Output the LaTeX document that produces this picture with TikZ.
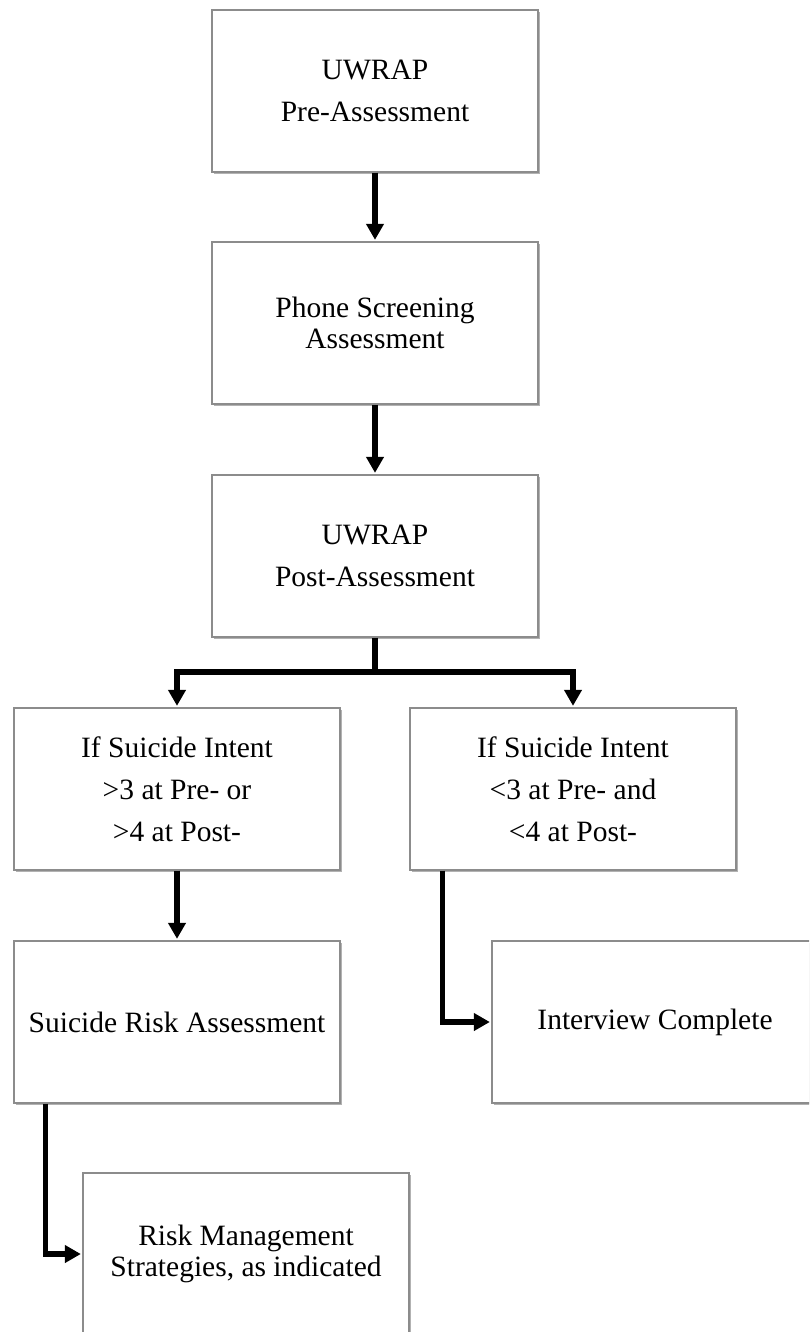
\documentclass[tikz,border=0pt]{standalone}
\usepackage{fontspec}
\setmainfont{Liberation Serif}
\usetikzlibrary{arrows.meta,shadows}
\tikzset{
  box/.style={draw=black!45, line width=1.3pt, fill=white, minimum width=326pt, minimum height=162pt,
    inner sep=0pt, align=center, font=\fontsize{29.5}{42}\selectfont,
    drop shadow={shadow xshift=1.5pt, shadow yshift=-2pt, fill=black, opacity=0.3}},
  tight/.style={font=\fontsize{29.5}{31}\selectfont},
  arr/.style={line width=5.5pt, line join=miter, -{Triangle[length=16pt,width=17pt]}, shorten >=1.5pt}
}
\begin{document}
\begin{tikzpicture}[x=1pt,y=-1pt]
\clip (0,0) rectangle (809,1332);
\fill[white] (0,0) rectangle (809,1332);
\node[box] (b1) at (375,91) {UWRAP\\Pre-Assessment};
\node[box,tight] (b2) at (375,323) {Phone Screening\\Assessment};
\node[box] (b3) at (375,556) {UWRAP\\Post-Assessment};
\node[box] (b4) at (177,789) {If Suicide Intent\\>3 at Pre- or\\>4 at Post-};
\node[box] (b5) at (573,789) {If Suicide Intent\\<3 at Pre- and\\<4 at Post-};
\node[box] (b6) at (177,1022) {Suicide Risk Assessment};
\node[box] (b8) at (655,1022) {Interview Complete};
\node[box,tight] (b7) at (246,1254) {Risk Management\\Strategies, as indicated};
\coordinate (split) at (375,672);
\draw[arr] (b1.south) -- (b2.north);
\draw[arr] (b2.south) -- (b3.north);
\draw[arr] (b3.south) -- (split) -| (b4.north);
\draw[arr] (split) -| (b5.north);
\draw[arr] (b4.south) -- (b6.north);
\draw[arr] ([xshift=32pt]b6.south west) |- (b7.west);
\draw[arr] ([xshift=33pt]b5.south west) |- (b8.west);
\end{tikzpicture}
\end{document}
